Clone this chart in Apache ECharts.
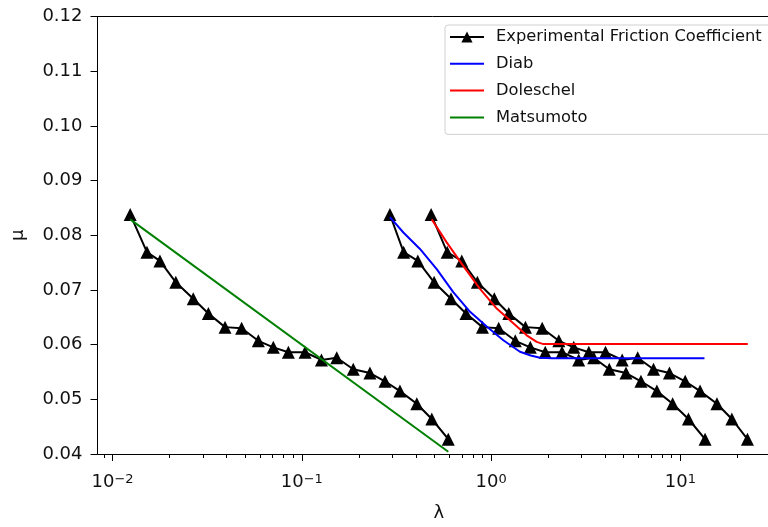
<!DOCTYPE html>
<html>
<head>
<meta charset="utf-8">
<script src="https://cdn.jsdelivr.net/npm/echarts@6/dist/echarts.min.js"></script>
<style>
html, body { margin: 0; padding: 0; background: #fff; }
#chart { width: 768px; height: 527px; }
</style>
</head>
<body>
<div id="chart"></div>
<script>
// measured friction coefficient, same mu for all three lambda sets
var mu = [0.0838, 0.0769, 0.0753, 0.0714, 0.0684, 0.0657, 0.0632, 0.0630, 0.0607, 0.0595, 0.0586,
    0.0586, 0.0572, 0.0576, 0.0555, 0.0548, 0.0533, 0.0515, 0.0492, 0.0464, 0.0427];
// lambda of each experimental point, one list per film thickness formula
var lamMatsumoto = [0.0124, 0.0152, 0.0178, 0.0216, 0.0267, 0.0321, 0.0393, 0.0481, 0.0589, 0.0707, 0.0849,
    0.104, 0.127, 0.153, 0.187, 0.229, 0.275, 0.330, 0.405, 0.486, 0.594];
var lamDiab = [0.292, 0.345, 0.41, 0.50, 0.614, 0.737, 0.90, 1.097, 1.342, 1.611, 1.933,
    2.369, 2.902, 3.483, 4.21, 5.16, 6.19, 7.51, 9.1, 11.03, 13.5];
var lamDoleschel = [0.482, 0.586, 0.70, 0.846, 1.04, 1.240, 1.519, 1.862, 2.279, 2.734, 3.282,
    4.021, 4.926, 5.95, 7.21, 8.75, 10.6, 12.7, 15.6, 18.7, 22.6];
// model curves
var diabX = [0.292, 0.344, 0.421, 0.516, 0.631, 0.774, 0.948, 1.160, 1.421, 1.62, 1.813, 2.1, 13.4];
var diabY = [0.0833, 0.0805, 0.0775, 0.0738, 0.0696, 0.0660, 0.0633, 0.0608, 0.0587, 0.0580, 0.0576, 0.0575, 0.0575];
var doleschelX = [0.486, 0.5825, 0.7126, 0.8737, 1.071, 1.31, 1.542, 1.741, 1.887, 22.7];
var doleschelY = [0.0829, 0.0787, 0.0744, 0.0702, 0.0666, 0.0639, 0.0617, 0.0605, 0.0601, 0.0601];
var matsumotoX = [0.0124, 0.594];
var matsumotoY = [0.0829, 0.0404];
// ticks
var majorTicks = [0.01, 0.1, 1, 10];
var minorTicks = [0.009, 0.02, 0.03, 0.04, 0.05, 0.06, 0.07, 0.08, 0.09,
    0.2, 0.3, 0.4, 0.5, 0.6, 0.7, 0.8, 0.9, 2, 3, 4, 5, 6, 7, 8, 9, 20];

var EXP = 'Experimental Friction Coefficient';
var FONT = 'DejaVu Sans';
var LINE_ICON = 'path://M0,0 L17,0 L17,1 L0,1 Z';

function pairs(xs, ys) {
    var out = [];
    for (var i = 0; i < xs.length; i++) out.push([xs[i], ys[i]]);
    return out;
}

function expSeries(xs) {
    return {
        name: EXP,
        type: 'line',
        data: pairs(xs, mu),
        symbol: 'triangle',
        symbolSize: 13,
        itemStyle: { color: '#000' },
        lineStyle: { color: '#000', width: 2 },
        z: 2
    };
}

function modelSeries(name, color, xs, ys) {
    return {
        name: name,
        type: 'line',
        data: pairs(xs, ys),
        symbol: 'none',
        itemStyle: { color: color },
        lineStyle: { color: color, width: 2 },
        z: 3
    };
}

var chart = echarts.init(document.getElementById('chart'));
var xmin = 0.00833, xmax = 29.03;

chart.setOption({
    animation: false,
    textStyle: { fontFamily: FONT },
    grid: { left: 97.5, right: 0, top: 16.5, bottom: 70.5 },
    legend: {
        orient: 'vertical',
        left: 445, top: 25,
        padding: [4, 30, 9, 4],
        itemWidth: 34, itemHeight: 14, itemGap: 10.8,
        backgroundColor: 'rgba(255,255,255,0.8)',
        borderColor: '#d0d0d0', borderWidth: 1, borderRadius: 3,
        textStyle: { fontFamily: FONT, fontSize: 16.3, color: '#111', lineHeight: 16, padding: [0, 0, 0, 7] },
        data: [
            EXP,
            { name: 'Diab', icon: LINE_ICON },
            { name: 'Doleschel', icon: LINE_ICON },
            { name: 'Matsumoto', icon: LINE_ICON }
        ]
    },
    xAxis: [{
        type: 'log', min: xmin, max: xmax,
        name: 'λ', nameLocation: 'middle', nameGap: 50,
        nameTextStyle: { fontFamily: FONT, fontSize: 18, color: '#111', padding: [0, 0, 0, 12] },
        axisLine: { show: true, lineStyle: { color: '#000', width: 1 } },
        axisTick: { show: true, length: 7, customValues: majorTicks, lineStyle: { color: '#000' } },
        axisLabel: {
            customValues: majorTicks, margin: 19,
            formatter: function (v) {
                var e = Math.round(Math.log(v) / Math.LN10);
                var s = e < 0 ? '\u2212' + (-e) : '' + e;
                return '{b|10}{s|' + s + '}';
            },
            rich: {
                b: { fontFamily: FONT, fontSize: 18, color: '#111', lineHeight: 18 },
                s: { fontFamily: FONT, fontSize: 13, color: '#111', verticalAlign: 'top', lineHeight: 13 }
            }
        },
        splitLine: { show: false }
    }, {
        type: 'log', min: xmin, max: xmax, position: 'bottom',
        axisLine: { show: false },
        axisTick: { show: true, length: 4, customValues: minorTicks, lineStyle: { color: '#000' } },
        axisLabel: { show: false },
        splitLine: { show: false }
    }, {
        // top spine only
        type: 'value', min: 0, max: 1, position: 'top',
        axisLine: { show: true, lineStyle: { color: '#000', width: 1 } },
        axisTick: { show: false },
        axisLabel: { show: false },
        splitLine: { show: false }
    }],
    yAxis: {
        type: 'value', min: 0.04, max: 0.12, interval: 0.01,
        name: 'μ', nameLocation: 'middle', nameGap: 70, nameRotate: 90,
        nameTextStyle: { fontFamily: FONT, fontSize: 18, color: '#111' },
        axisLine: { show: true, lineStyle: { color: '#000', width: 1 } },
        axisTick: { show: true, length: 7, lineStyle: { color: '#000' } },
        axisLabel: {
            margin: 15, fontFamily: FONT, fontSize: 18, color: '#111',
            formatter: function (v) { return v.toFixed(2); }
        },
        splitLine: { show: false }
    },
    series: [
        expSeries(lamMatsumoto),
        expSeries(lamDiab),
        expSeries(lamDoleschel),
        modelSeries('Diab', '#0000ff', diabX, diabY),
        modelSeries('Doleschel', '#ff0000', doleschelX, doleschelY),
        modelSeries('Matsumoto', '#008000', matsumotoX, matsumotoY)
    ]
});
</script>
</body>
</html>
